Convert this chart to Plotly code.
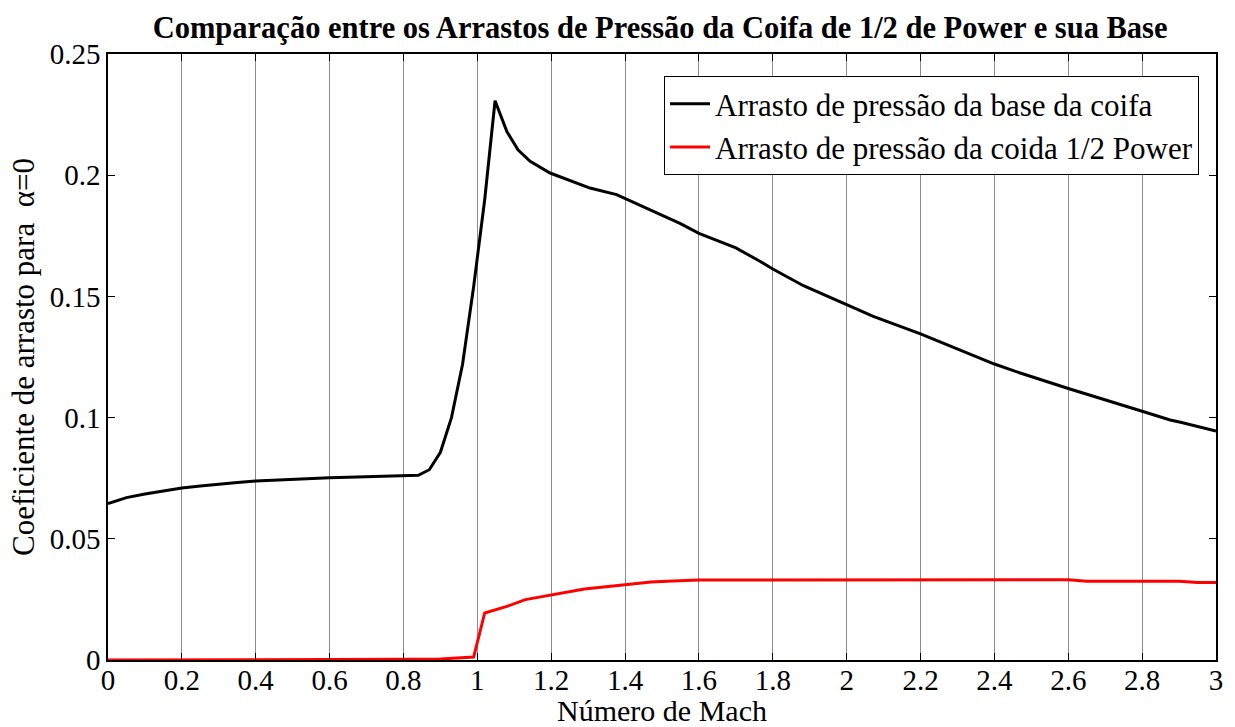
import plotly.graph_objects as go

# Número de Mach e coeficientes de arrasto (alpha = 0)
mach_base = [0, 0.05, 0.1, 0.15, 0.2, 0.25, 0.3, 0.35, 0.4, 0.45, 0.5, 0.55, 0.6,
             0.65, 0.7, 0.75, 0.8, 0.84, 0.87, 0.9, 0.93, 0.96, 0.99, 1.02, 1.048,
             1.08, 1.11, 1.143, 1.197, 1.251, 1.305, 1.377, 1.468, 1.55, 1.6, 1.7,
             1.765, 1.8, 1.883, 2.0, 2.072, 2.2, 2.334, 2.4, 2.47, 2.6, 2.8, 2.876,
             2.907, 3.0]
cd_base = [0.0645, 0.0670, 0.0685, 0.0698, 0.0710, 0.0718, 0.0726, 0.0732, 0.0738,
           0.0742, 0.0746, 0.0749, 0.0752, 0.0754, 0.0756, 0.0758, 0.0760, 0.0762,
           0.0785, 0.0857, 0.1000, 0.1220, 0.1540, 0.1900, 0.2307, 0.2180, 0.2105,
           0.2057, 0.2009, 0.1979, 0.1947, 0.1920, 0.1858, 0.1800, 0.1760, 0.1700,
           0.1645, 0.1613, 0.1544, 0.1466, 0.1418, 0.1345, 0.1260, 0.1221, 0.1184,
           0.1120, 0.1026, 0.0990, 0.0980, 0.0945]

mach_coifa = [0, 0.75, 0.8, 0.9, 0.95, 0.99, 1.02, 1.08, 1.13, 1.2, 1.29, 1.4, 1.47,
              1.53, 1.6, 2.6, 2.65, 2.9, 2.95, 3.0]
cd_coifa = [0, 0, 0.0003, 0.0004, 0.0008, 0.0012, 0.0194, 0.0221, 0.0249, 0.0269,
            0.0293, 0.0310, 0.0322, 0.0326, 0.0330, 0.0331, 0.0325, 0.0325, 0.0320,
            0.0320]

x_ticks = [0, 0.2, 0.4, 0.6, 0.8, 1, 1.2, 1.4, 1.6, 1.8, 2, 2.2, 2.4, 2.6, 2.8, 3]
x_labels = ["0", "0.2", "0.4", "0.6", "0.8", "1", "1.2", "1.4", "1.6", "1.8", "2",
            "2.2", "2.4", "2.6", "2.8", "3"]
y_ticks = [0, 0.05, 0.1, 0.15, 0.2, 0.25]
y_labels = ["0", "0.05", "0.1", "0.15", "0.2", "0.25"]

FONT = "Liberation Serif"

fig = go.Figure()
fig.add_trace(go.Scatter(
    x=mach_base, y=cd_base, mode="lines",
    name="Arrasto de pressão da base da coifa",
    line=dict(color="black", width=3),
))
fig.add_trace(go.Scatter(
    x=mach_coifa, y=cd_coifa, mode="lines",
    name="Arrasto de pressão da coida 1/2 Power",
    line=dict(color="red", width=3),
))

axis_common = dict(
    showline=True, linecolor="black", linewidth=1.5, mirror="ticks",
    ticks="inside", ticklen=7, tickcolor="black", tickwidth=1,
    zeroline=False, automargin=False,
    tickfont=dict(family=FONT, size=29, color="black"),
)

fig.update_layout(
    width=1235, height=727,
    margin=dict(l=108, r=19, t=54, b=67),
    paper_bgcolor="white", plot_bgcolor="white",
    title=dict(
        text="<b>Comparação entre os Arrastos de Pressão da Coifa de 1/2 de Power e sua Base</b>",
        font=dict(family=FONT, size=30.5, color="black"),
        x=0.5345, xanchor="center", y=0.962, yanchor="middle",
    ),
    xaxis=dict(
        range=[0, 3], tickvals=x_ticks, ticktext=x_labels,
        showgrid=True, gridcolor="#8c8c8c", gridwidth=1,
        ticklabelstandoff=-7,
        title=dict(text="Número de Mach", font=dict(family=FONT, size=30, color="black"),
                   standoff=1),
        **axis_common,
    ),
    yaxis=dict(
        range=[0, 0.25], tickvals=y_ticks, ticktext=y_labels,
        showgrid=False,
        title=dict(text="Coeficiente de arrasto para  α=0",
                   font=dict(family=FONT, size=31, color="black"), standoff=6),
        **axis_common,
    ),
    legend=dict(
        x=0.9847, xanchor="right", y=0.9637, yanchor="top",
        bgcolor="white", bordercolor="black", borderwidth=1,
        font=dict(family=FONT, size=31, color="black"),
        tracegroupgap=0, itemwidth=40,
    ),
    showlegend=True,
)

fig.write_html("out.html")
